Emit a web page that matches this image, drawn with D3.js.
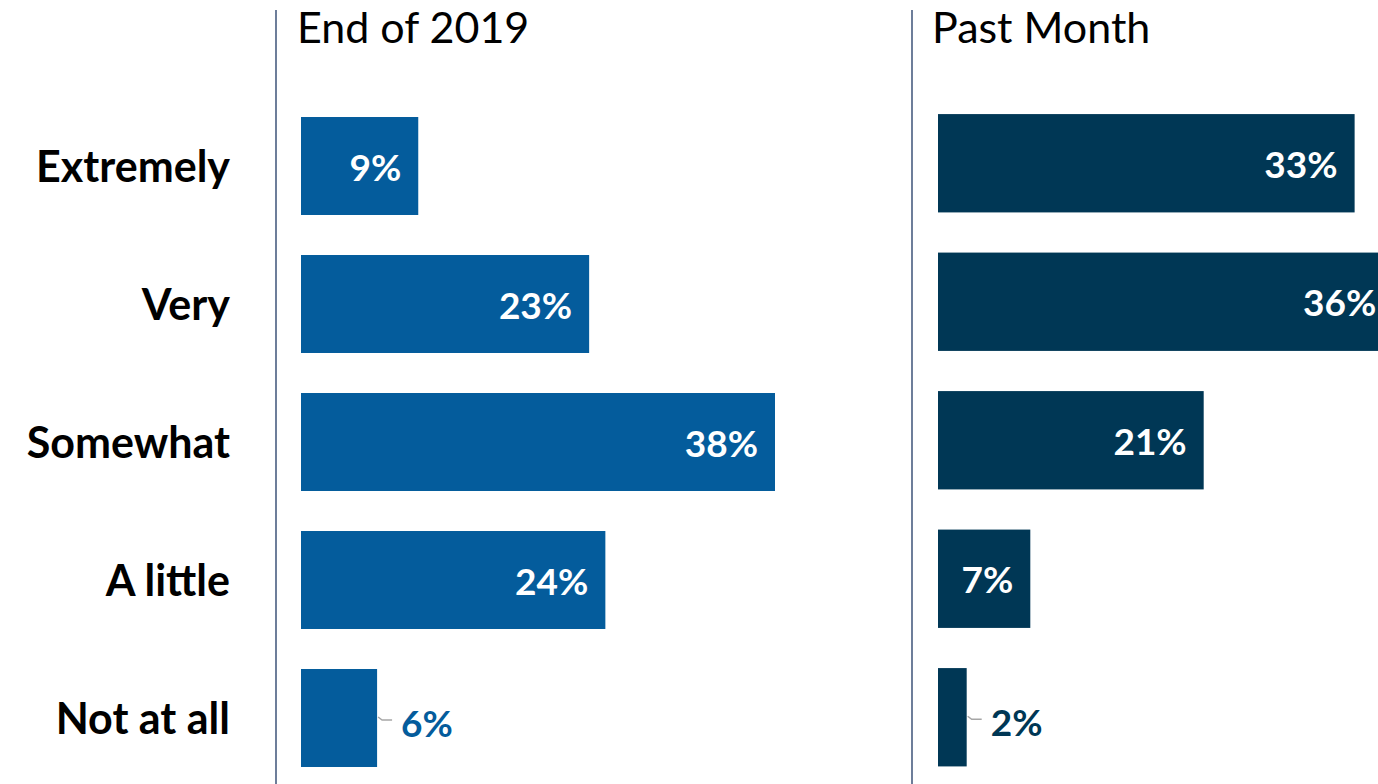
<!DOCTYPE html>
<html><head><meta charset="utf-8">
<script src="https://cdn.jsdelivr.net/npm/d3@7"></script>
<style>body{margin:0;background:#fff}svg{display:block}</style>
</head><body>
<svg id="chart" width="1378" height="784"></svg>
<script>
const categories = ["Extremely", "Very", "Somewhat", "A little", "Not at all"];
const panelTitles = ["End of 2019", "Past Month"];
const end2019 = [9.4, 23.1, 38, 24.4, 6.1];
const pastMonth = [33.4, 36.5, 21.3, 7.4, 2.3];
const valueLabels2019 = ["9%", "23%", "38%", "24%", "6%"];
const valueLabelsPast = ["33%", "36%", "21%", "7%", "2%"];

const FONT = "Lato, 'Open Sans', sans-serif";
const svg = d3.select("#chart");

const x = d3.scaleLinear().domain([0, 38]).range([0, 474]);

const panels = [
  {title: panelTitles[0], values: end2019, labels: valueLabels2019, axisX: 276, x0: 301, yRange: [97, 787], color: "#045C9C", titleX: 297},
  {title: panelTitles[1], values: pastMonth, labels: valueLabelsPast, axisX: 912, x0: 938, yRange: [94, 786.5], color: "#003755", titleX: 932}
];

const yLeft = d3.scaleBand().domain(categories).range(panels[0].yRange).paddingInner(0.29).paddingOuter(0.145);
svg.append("g").selectAll("text").data(categories).join("text")
  .attr("x", 230).attr("y", d => yLeft(d) + yLeft.bandwidth()/2 - 1)
  .attr("text-anchor", "end").attr("dominant-baseline", "central")
  .attr("font-family", FONT).attr("font-weight", 700).attr("font-size", 43)
  .attr("fill", "#000").text(d => d);

panels.forEach(p => {
  const y = d3.scaleBand().domain(categories).range(p.yRange).paddingInner(0.29).paddingOuter(0.145);
  const g = svg.append("g");
  g.append("line").attr("x1", p.axisX).attr("x2", p.axisX).attr("y1", 10).attr("y2", 784)
    .attr("stroke", "#1F3864").attr("stroke-width", 1.3);
  g.append("text").attr("x", p.titleX).attr("y", 43)
    .attr("font-family", FONT).attr("font-size", 43).attr("fill", "#000").text(p.title);

  const rows = categories.map((c, i) => ({c, v: p.values[i], l: p.labels[i]}));
  g.selectAll("rect").data(rows).join("rect")
    .attr("x", p.x0).attr("y", d => y(d.c))
    .attr("width", d => x(d.v)).attr("height", y.bandwidth())
    .attr("fill", p.color);

  rows.forEach(d => {
    const w = x(d.v);
    const cy = y(d.c) + y.bandwidth()/2;
    if (w > 85) {
      g.append("text").attr("x", p.x0 + w - 17).attr("y", cy)
        .attr("text-anchor", "end").attr("dominant-baseline", "central")
        .attr("font-family", FONT).attr("font-weight", 700).attr("font-size", 37)
        .attr("fill", "#fff").text(d.l);
    } else {
      const bx = p.x0 + w;
      g.append("path")
        .attr("d", `M${bx+1},${cy-1} L${bx+5},${cy+2} L${bx+15},${cy+2}`)
        .attr("fill", "none").attr("stroke", "#A6A6A6").attr("stroke-width", 1.5);
      g.append("text").attr("x", bx + 24).attr("y", cy + 4)
        .attr("dominant-baseline", "central")
        .attr("font-family", FONT).attr("font-weight", 700).attr("font-size", 37)
        .attr("fill", p.color).text(d.l);
    }
  });
});
</script>
</body></html>
